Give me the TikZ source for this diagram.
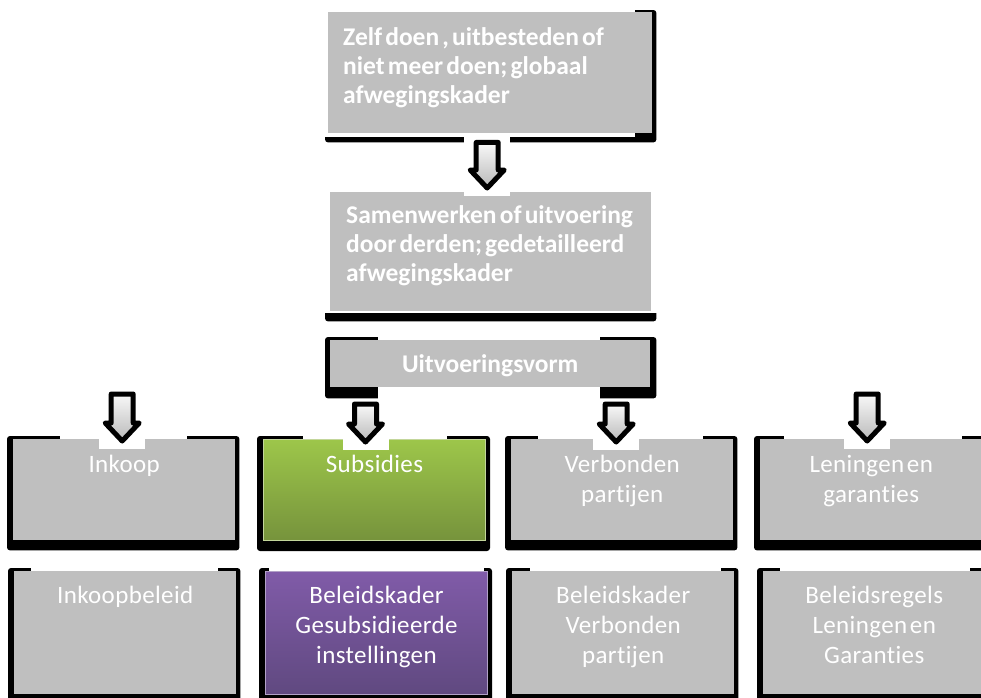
\documentclass[tikz,border=0pt]{standalone}
\usepackage{fontspec}
\setmainfont{Carlito}[WordSpace=0.55, Ligatures=NoCommon]
\newfontfamily\rowfont{Carlito}[WordSpace=0.45, LetterSpace=1.5, Ligatures=NoCommon]
\usetikzlibrary{positioning,backgrounds}

\definecolor{boxgray}{RGB}{191,191,191}
\definecolor{greentop}{RGB}{157,198,74}
\definecolor{greenbot}{RGB}{118,147,60}
\definecolor{greenline}{RGB}{195,214,155}
\definecolor{purpletop}{RGB}{128,91,168}
\definecolor{purplebot}{RGB}{96,73,128}
\definecolor{purpleline}{RGB}{178,161,199}

\tikzset{
  box/.style 2 args={anchor=north west, fill=boxgray, inner sep=0pt, minimum width=#1, minimum height=#2},
  rowbox/.style={box={222pt}{101pt}},
  policybox/.style={box={222pt}{123pt}},
  greenfill/.style={top color=greentop, bottom color=greenbot, draw=greenline, line width=1pt},
  purplefill/.style={top color=purpletop, bottom color=purplebot, draw=purpleline, line width=1pt},
  blackframe/.style={fill=black, rounded corners=3pt},
  boldtext/.style={font=\fontsize{25.5}{29}\selectfont\bfseries, text=white, align=left, inner sep=0pt},
  rowtext/.style={font=\rowfont\fontsize{25}{30}\selectfont, text=white, align=center, inner sep=0pt},
  arrowbody/.style={draw=black, line width=5pt, line join=round, top color=gray!5, bottom color=gray!55}
}

% block arrow: #1 top of the shaft, #2 gives the height of the tip
\newcommand{\blockarrow}[2]{%
  \coordinate (ba-top) at (#1);
  \path (#2) coordinate (ba-y);
  \coordinate (ba-tip) at (ba-top |- ba-y);
  \fill[white] ([shift={(-23pt,5pt)}]ba-top) rectangle ([shift={(23pt,-8pt)}]ba-tip);
  \draw[arrowbody] ([xshift=-11pt]ba-top) -- ([shift={(-11pt,18pt)}]ba-tip) -- ([shift={(-17pt,18pt)}]ba-tip)
    -- (ba-tip) -- ([shift={(17pt,18pt)}]ba-tip) -- ([shift={(11pt,18pt)}]ba-tip) -- ([xshift=11pt]ba-top) -- cycle;
}

\begin{document}
\begin{tikzpicture}[x=1pt, y=-1pt]
\useasboundingbox (0,0) rectangle (981,697);

% boxes
\node[box={324pt}{121pt}] (zelf) at (328,12) {};
\node[box={321pt}{119pt}] (samen) at (330,192) {};
\node[box={320pt}{47pt}] (uitv) at (330,340) {};
\node[rowbox] (inkoop) at (13,439) {};
\node[rowbox, greenfill] (subs) at (263,439) {};
\node[rowbox] (verb) at (511,439) {};
\node[rowbox] (len) at (760,439) {};
\node[policybox] (inkoopb) at (14,571) {};
\node[policybox, purplefill] (subsb) at (265,571) {};
\node[policybox] (verbb) at (512,571) {};
\node[policybox] (lenb) at (763,571) {};

% texts
\node[boldtext, below right=15pt and 15pt of zelf.north west] (zelfT) {Zelf doen , uitbesteden of\\niet meer doen; globaal\\afwegingskader};
\node[boldtext, below right=13pt and 16pt of samen.north west] (samenT) {Samenwerken of uitvoering\\door derden; gedetailleerd\\afwegingskader};
\node[boldtext, yshift=-2.5pt] (uitvT) at (uitv.center) {Uitvoeringsvorm};
\node[rowtext, below=16pt of inkoop.north] (inkoopT) {Inkoop};
\node[rowtext, below=16pt of subs.north] (subsT) {Subsidies};
\node[rowtext, below=16pt of verb.north] (verbT) {Verbonden\\partijen};
\node[rowtext, below=16pt of len.north] (lenT) {Leningen en\\garanties};
\node[rowtext, below=15pt of inkoopb.north] (inkoopbT) {Inkoopbeleid};
\node[rowtext, below=15pt of subsb.north] (subsbT) {Beleidskader\\Gesubsidieerde\\instellingen};
\node[rowtext, below=15pt of verbb.north] (verbbT) {Beleidskader\\Verbonden\\partijen};
\node[rowtext, below=15pt of lenb.north] (lenbT) {Beleidsregels\\Leningen en\\Garanties};

% shadows behind the boxes
\begin{scope}[on background layer]
  \fill[white] (0,0) rectangle (981,697);
  \fill[blackframe] ([shift={(-3pt,2pt)}]zelf.north west) rectangle ([shift={(4pt,-9pt)}]zelf.south east);
  \fill[white] ([shift={(-8pt,5pt)}]zelf.north west) rectangle ([shift={(-17pt,-4pt)}]zelf.south east);
  \fill[blackframe] ([shift={(-5pt,2pt)}]samen.north west) rectangle ([shift={(5pt,-10pt)}]samen.south east);
  \fill[white] ([shift={(-8pt,7pt)}]samen.north west) rectangle ([shift={(8pt,-2pt)}]samen.south east);
  \fill[blackframe] ([shift={(-5pt,3pt)}]uitv.north west) rectangle ([shift={(6pt,-11pt)}]uitv.south east);
  \fill[white] ([shift={(48pt,7pt)}]uitv.north west) rectangle ([xshift=-50pt]uitv.north east);
  \fill[white] ([xshift=48pt]uitv.south west) rectangle ([shift={(-50pt,-15pt)}]uitv.south east);
  \foreach \nm/\gapL/\gapR in {inkoop/47/48, subs/40/39, verb/27/30, len/24/20,
      inkoopb/17/18, subsb/4/4, verbb/18/13, lenb/17/15} {
    \fill[blackframe] ([shift={(-6pt,3pt)}]\nm.north west) rectangle ([shift={(4pt,-10pt)}]\nm.south east);
    \fill[white] ([shift={(\gapL pt,5pt)}]\nm.north west) rectangle ([xshift=-\gapR pt]\nm.north east);
  }
\end{scope}

% arrows
\blockarrow{[shift={(-3pt,-9pt)}]zelf.south}{[yshift=4pt]samen.north}
\coordinate (inkoopIn) at ([shift={(-2pt,45pt)}]inkoop.north);
\coordinate (lenIn) at ([shift={(-4pt,45pt)}]len.north);
\blockarrow{inkoopIn}{[yshift=-2pt]inkoop.north}
\blockarrow{[shift={(-9pt,35pt)}]subs.north}{[yshift=-3pt]subs.north}
\blockarrow{[shift={(-6pt,35pt)}]verb.north}{[yshift=-3pt]verb.north}
\blockarrow{lenIn}{[yshift=-2pt]len.north}
\end{tikzpicture}
\end{document}
